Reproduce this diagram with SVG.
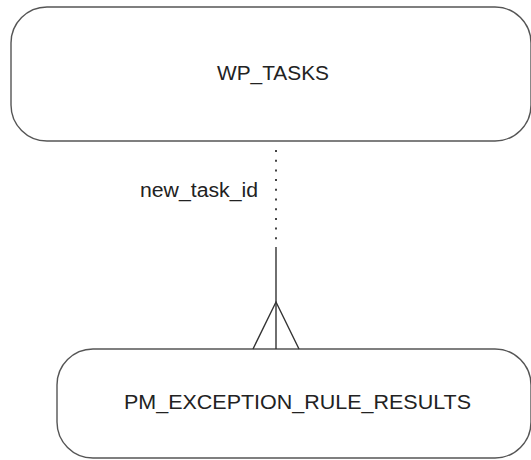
<svg xmlns="http://www.w3.org/2000/svg" width="531" height="460" viewBox="0 0 531 460">
<style>
.box{fill:#fff;stroke:#555;stroke-width:1.4}
.lbl{font-family:"Liberation Sans",Arial,sans-serif;font-size:19.5px;fill:#222}
.rel{stroke:#333;stroke-width:1.4;fill:none}
.dot{stroke:#444;stroke-width:2;stroke-dasharray:2 7.7;fill:none}
</style>
<rect width="531" height="460" fill="#fff"/>
<g id="wp_tasks">
<rect class="box" x="11" y="7" width="520" height="134" rx="36" ry="36"/>
<text class="lbl" x="217" y="80" textLength="112" lengthAdjust="spacingAndGlyphs">WP_TASKS</text>
</g>
<g id="pm_exception_rule_results">
<rect class="box" x="57" y="349" width="474" height="109" rx="36" ry="36"/>
<text class="lbl" x="124" y="408.5" textLength="347" lengthAdjust="spacingAndGlyphs">PM_EXCEPTION_RULE_RESULTS</text>
</g>
<g id="connectors">
<line class="dot" x1="276" y1="150" x2="276" y2="247"/>
<line class="rel" x1="276" y1="247" x2="276" y2="349"/>
<polyline class="rel" points="253,349 276,302 299,349"/>
<text class="lbl" x="140" y="197" textLength="118" lengthAdjust="spacingAndGlyphs">new_task_id</text>
</g>
</svg>
